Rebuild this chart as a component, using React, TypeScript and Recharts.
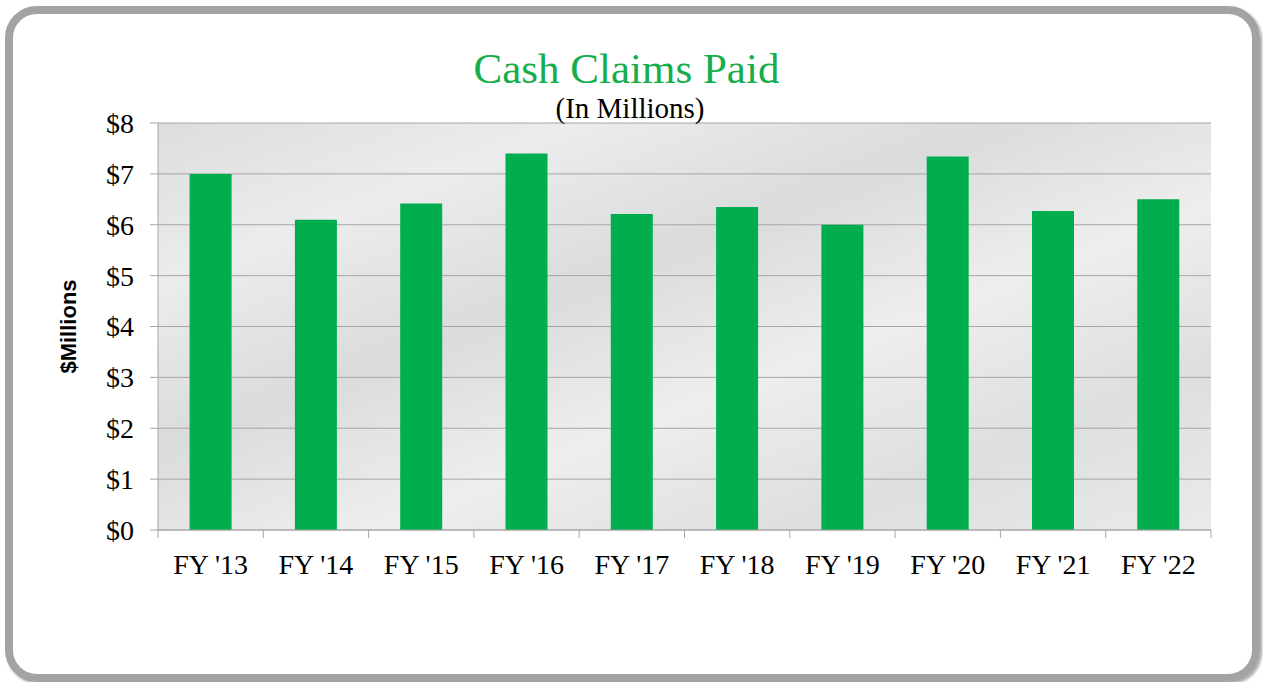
import { BarChart, Bar, XAxis, YAxis, CartesianGrid } from 'recharts';

const years = ["FY '13", "FY '14", "FY '15", "FY '16", "FY '17", "FY '18", "FY '19", "FY '20", "FY '21", "FY '22"];
const claimsPaid = [7.0, 6.1, 6.42, 7.4, 6.21, 6.35, 6.0, 7.34, 6.27, 6.5];
const yTicks = [0, 1, 2, 3, 4, 5, 6, 7, 8];

const data = years.map((year, i) => ({ year, paid: claimsPaid[i] }));

const serif = '"Liberation Serif", "Times New Roman", serif';
const gridGray = '#a6a6a6';

function XTick(props: any) {
  const { x, y, payload, index } = props;
  const half = payload.offset || 0;
  return (
    <g>
      <line x1={x - half} y1={y} x2={x - half} y2={y + 8} stroke={gridGray} />
      {index === years.length - 1 && (
        <line x1={x + half} y1={y} x2={x + half} y2={y + 8} stroke={gridGray} />
      )}
      <text x={x} y={y + 44} textAnchor="middle" fontFamily={serif} fontSize={28} fill="#000">
        {payload.value}
      </text>
    </g>
  );
}

function YLabel(props: any) {
  const { viewBox } = props;
  const cy = viewBox.y + viewBox.height / 2;
  return (
    <text
      x={68}
      y={cy}
      transform={`rotate(-90, 68, ${cy})`}
      textAnchor="middle"
      dominantBaseline="central"
      fontFamily='"Liberation Sans", Arial, sans-serif'
      fontWeight="bold"
      fontSize={22}
      fill="#000"
    >
      $Millions
    </text>
  );
}

export default function App() {
  return (
    <div style={{ position: 'absolute', left: 0, top: 0, width: 1263, height: 682, background: '#fff' }}>
      <div
        style={{
          position: 'absolute',
          left: 5,
          top: 6,
          width: 1255,
          height: 676,
          boxSizing: 'border-box',
          border: '8px solid #a3a3a3',
          borderRadius: 32,
          boxShadow: '2px 2px 3px rgba(0,0,0,0.35)',
        }}
      />
      <div style={{ position: 'absolute', left: 0, top: 0 }}>
        <BarChart width={1263} height={682} data={data} margin={{ top: 123, right: 52, bottom: 92, left: 0 }} barCategoryGap="30%">
          <defs>
            <linearGradient id="marble" x1="0" y1="0" x2="1" y2="1">
              <stop offset="0%" stopColor="#dcdddf" />
              <stop offset="20%" stopColor="#ebeced" />
              <stop offset="40%" stopColor="#dadbdc" />
              <stop offset="60%" stopColor="#eeeeef" />
              <stop offset="80%" stopColor="#dddedf" />
              <stop offset="100%" stopColor="#e9eaeb" />
            </linearGradient>
          </defs>
          <CartesianGrid vertical={false} stroke={gridGray} fill="url(#marble)" fillOpacity={1} />
          <XAxis
            dataKey="year"
            height={60}
            axisLine={{ stroke: gridGray }}
            tickLine={false}
            tickSize={0}
            tickMargin={0}
            tick={<XTick />}
            interval={0}
          />
          <YAxis
            width={158}
            domain={[0, 8]}
            ticks={yTicks}
            tickFormatter={(v: number) => `$${v}`}
            axisLine={{ stroke: gridGray }}
            tickLine={{ stroke: gridGray }}
            tickSize={8}
            tickMargin={16}
            tick={{ fontFamily: serif, fontSize: 28, fill: '#000' }}
            label={<YLabel />}
          />
          <Bar dataKey="paid" fill="#00ae4d" isAnimationActive={false} />
        </BarChart>
      </div>
      <div
        style={{
          position: 'absolute',
          left: 0,
          width: 1253,
          top: 44,
          textAlign: 'center',
          fontFamily: serif,
          fontSize: 43,
          lineHeight: '50px',
          color: '#16ad4b',
        }}
      >
        Cash Claims Paid
      </div>
      <div
        style={{
          position: 'absolute',
          left: 0,
          width: 1260,
          top: 92,
          textAlign: 'center',
          fontFamily: serif,
          fontSize: 29,
          lineHeight: '32px',
          color: '#000',
        }}
      >
        (In Millions)
      </div>
    </div>
  );
}
